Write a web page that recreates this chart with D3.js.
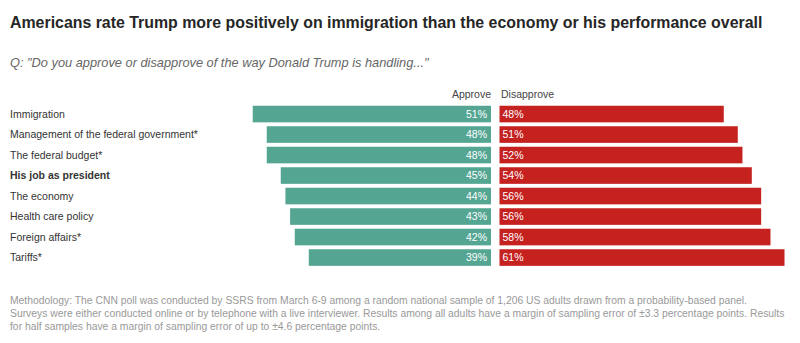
<!DOCTYPE html>
<html><head><meta charset="utf-8">
<script src="https://cdn.jsdelivr.net/npm/d3@7/dist/d3.min.js"></script>
<style>body{margin:0;background:#fff;}svg{display:block;font-family:"Liberation Sans",Arial,sans-serif;}</style>
</head><body>
<svg id="c" width="800" height="343"></svg>
<script>
const categories = ["Immigration","Management of the federal government*","The federal budget*","His job as president","The economy","Health care policy","Foreign affairs*","Tariffs*"];
const approve = [51,48,48,45,44,43,42,39];
const disapprove = [48,51,52,54,56,56,58,61];
const seriesLabels = ["Approve","Disapprove"];
const boldCategory = "His job as president";
const title = "Americans rate Trump more positively on immigration than the economy or his performance overall";
const subtitle = "Q: \"Do you approve or disapprove of the way Donald Trump is handling...\"";
const notes = ["Methodology: The CNN poll was conducted by SSRS from March 6-9 among a random national sample of 1,206 US adults drawn from a probability-based panel.",
"Surveys were either conducted online or by telephone with a live interviewer. Results among all adults have a margin of sampling error of \u00b13.3 percentage points. Results",
"for half samples have a margin of sampling error of up to \u00b14.6 percentage points."];

const svg = d3.select("#c");
const green = "#54a693", red = "#c4211f";
const centerL = 491, centerR = 499.5;
const w = d3.scaleLinear().domain([0, 61]).range([0, 285]);
const y = d3.scaleBand().domain(categories).range([103.8, 267.8]).paddingInner(0.19).paddingOuter(0.095);
const data = categories.map((c,i)=>({c, a:approve[i], d:disapprove[i]}));

svg.append("text").attr("x",10).attr("y",27.5).attr("font-size",15.9).attr("font-weight","bold").attr("fill","#262626").text(title);
svg.append("text").attr("x",10).attr("y",66.5).attr("font-size",12.8).attr("font-style","italic").attr("fill","#666").text(subtitle);

svg.append("text").attr("x",centerL).attr("y",98).attr("text-anchor","end").attr("font-size",10.5).attr("fill","#444").text(seriesLabels[0]);
svg.append("text").attr("x",centerR+1.5).attr("y",98).attr("font-size",10.5).attr("fill","#444").text(seriesLabels[1]);

const g = svg.append("g");
g.selectAll(".cat").data(data).join("text")
  .attr("x",10).attr("y",d=>y(d.c)+y.bandwidth()/2+3.8)
  .attr("font-size",10.5).attr("fill","#333")
  .attr("font-weight",d=>d.c===boldCategory?"bold":"normal")
  .text(d=>d.c);
g.selectAll(".ba").data(data).join("rect")
  .attr("x",d=>centerL-w(d.a)).attr("y",d=>y(d.c)).attr("width",d=>w(d.a)).attr("height",y.bandwidth()).attr("fill",green);
g.selectAll(".bd").data(data).join("rect")
  .attr("x",centerR).attr("y",d=>y(d.c)).attr("width",d=>w(d.d)).attr("height",y.bandwidth()).attr("fill",red);
g.selectAll(".la").data(data).join("text")
  .attr("x",centerL-4).attr("y",d=>y(d.c)+y.bandwidth()/2+3.8).attr("text-anchor","end")
  .attr("font-size",10.5).attr("fill","#fff").text(d=>d.a+"%");
g.selectAll(".ld").data(data).join("text")
  .attr("x",centerR+3).attr("y",d=>y(d.c)+y.bandwidth()/2+3.8)
  .attr("font-size",10.5).attr("fill","#fff").text(d=>d.d+"%");

svg.selectAll(".note").data(notes).join("text")
  .attr("x",10).attr("y",(d,i)=>303.5+i*13).attr("font-size",10.35).attr("fill","#999").text(d=>d);
</script>
</body></html>
